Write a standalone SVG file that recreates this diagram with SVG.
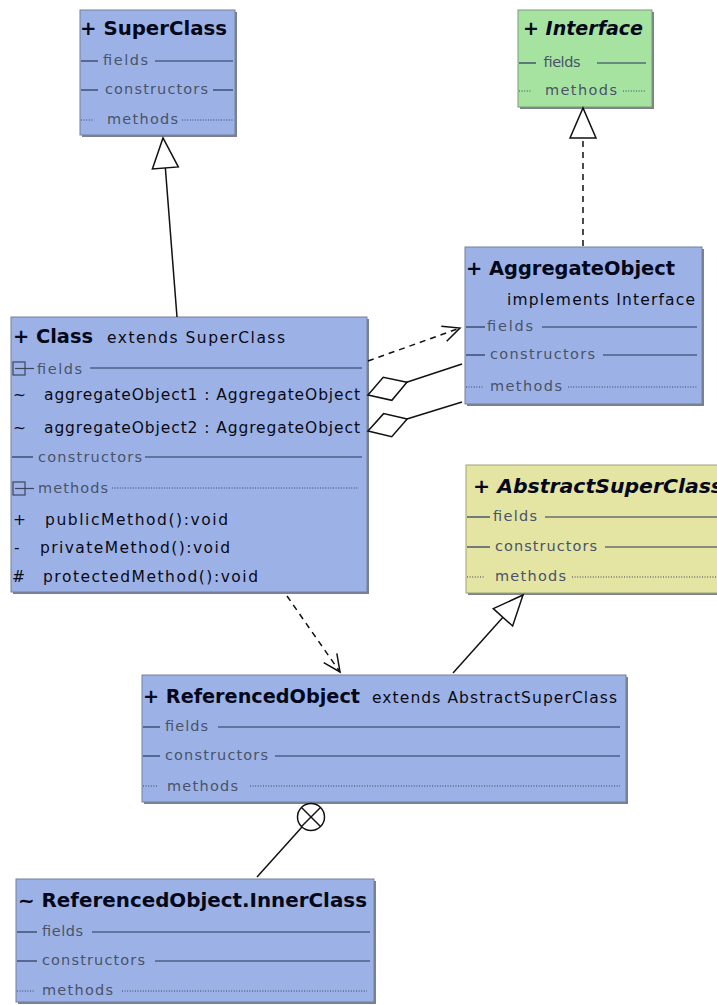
<svg xmlns="http://www.w3.org/2000/svg" width="717" height="1005" viewBox="0 0 717 1005">
  <style>
    .shadow { fill: #7c818d; }
    .box { fill: #9cb2e7; stroke: #74809c; stroke-width: 1; }
    .iface { fill: #a6e3a0; stroke: #7c9a78; stroke-width: 1; }
    .abstract { fill: #e4e4a3; stroke: #a0a078; stroke-width: 1; }
    .rule { stroke: #26345a; stroke-width: 1.2; }
    .dots { stroke: #34415f; stroke-width: 1; stroke-dasharray: 1 1.6; }
    .icon { fill: none; stroke: #3d4760; stroke-width: 1.2; }
    .lbl { font-family: "DejaVu Sans", "Liberation Sans", sans-serif; font-size: 14.5px; fill: #4a5368; }
    .title { font-family: "DejaVu Sans", "Liberation Sans", sans-serif; font-weight: bold; font-size: 20px; fill: #05081a; }
    .ital { font-style: italic; }
    .sig { font-family: "DejaVu Sans", "Liberation Sans", sans-serif; font-size: 15.5px; fill: #0a0a14; }
    .conn { stroke: #111111; stroke-width: 1.5; fill: none; }
    .dash { stroke-dasharray: 6 5; }
  </style>
  <defs>
    <!-- hollow triangle: generalization / realization -->
    <marker id="tri" markerUnits="userSpaceOnUse" markerWidth="34" markerHeight="30" refX="30" refY="14" orient="auto" overflow="visible">
      <path d="M0,1 L30,14 L0,27 Z" fill="#ffffff" stroke="#111111" stroke-width="1.5" stroke-dasharray="none"/>
    </marker>
    <!-- open arrow: dependency -->
    <marker id="open" markerUnits="userSpaceOnUse" markerWidth="20" markerHeight="18" refX="17" refY="8" orient="auto" overflow="visible">
      <path d="M0,0 L17,8 L0,16" fill="none" stroke="#111111" stroke-width="1.5" stroke-dasharray="none"/>
    </marker>
    <!-- hollow diamond: aggregation -->
    <marker id="diamond" markerUnits="userSpaceOnUse" markerWidth="44" markerHeight="28" refX="0" refY="0" orient="auto" overflow="visible">
      <path d="M0,0 L20,-12 L41,0 L21,12.5 Z" fill="#ffffff" stroke="#111111" stroke-width="1.5"/>
    </marker>
  </defs>

  <rect width="717" height="1005" fill="#ffffff"/>

  <!-- SuperClass -->
  <g id="SuperClass">
    <rect class="shadow" x="82" y="12" width="155" height="125"/>
    <rect class="box" x="80" y="10" width="155" height="125"/>
    <text class="title" x="80" y="35" font-size="18" textLength="147" lengthAdjust="spacingAndGlyphs">+ SuperClass</text>
    <line class="rule" x1="81" y1="61" x2="98" y2="61"/>
    <text class="lbl" x="103" y="65" textLength="45">fields</text>
    <line class="rule" x1="155" y1="61" x2="233" y2="61"/>
    <line class="rule" x1="81" y1="90" x2="98" y2="90"/>
    <text class="lbl" x="105" y="94" textLength="103">constructors</text>
    <line class="rule" x1="213" y1="90" x2="233" y2="90"/>
    <line class="dots" x1="81" y1="120" x2="94" y2="120"/>
    <text class="lbl" x="107" y="124" textLength="71">methods</text>
    <line class="dots" x1="182" y1="120" x2="233" y2="120"/>
  </g>

  <!-- Interface -->
  <g id="Interface">
    <rect class="shadow" x="520" y="12" width="134" height="97"/>
    <rect class="iface" x="518" y="10" width="134" height="97"/>
    <text class="title ital" x="523" y="35" font-size="18" textLength="120" lengthAdjust="spacingAndGlyphs">+ Interface</text>
    <line class="rule" x1="519" y1="63" x2="536" y2="63"/>
    <text class="lbl" x="543" y="67" textLength="37">fields</text>
    <line class="rule" x1="597" y1="63" x2="646" y2="63"/>
    <line class="dots" x1="519" y1="91" x2="531" y2="91"/>
    <text class="lbl" x="545" y="95" textLength="72">methods</text>
    <line class="dots" x1="623" y1="91" x2="646" y2="91"/>
  </g>

  <!-- Class -->
  <g id="Class">
    <rect class="shadow" x="13" y="319" width="356" height="275"/>
    <rect class="box" x="11" y="317" width="356" height="275"/>
    <text class="title" x="13" y="343" textLength="80" lengthAdjust="spacingAndGlyphs">+ Class</text>
    <text class="sig" x="107" y="343" textLength="178">extends SuperClass</text>
    <rect class="icon" x="13" y="362" width="12" height="13"/>
    <line class="icon" x1="15" y1="368.5" x2="34" y2="368.5"/>
    <text class="lbl" x="37" y="374" textLength="45">fields</text>
    <line class="rule" x1="90" y1="368" x2="362" y2="368"/>
    <text class="sig" x="13" y="400">~</text>
    <text class="sig" x="44" y="400" textLength="316">aggregateObject1 : AggregateObject</text>
    <text class="sig" x="13" y="433">~</text>
    <text class="sig" x="44" y="433" textLength="316">aggregateObject2 : AggregateObject</text>
    <line class="rule" x1="12" y1="457" x2="33" y2="457"/>
    <text class="lbl" x="38" y="462" textLength="104">constructors</text>
    <line class="rule" x1="145" y1="457" x2="362" y2="457"/>
    <rect class="icon" x="13" y="482" width="12" height="13"/>
    <line class="icon" x1="15" y1="488.5" x2="34" y2="488.5"/>
    <text class="lbl" x="38" y="493" textLength="70">methods</text>
    <line class="dots" x1="112" y1="488" x2="358" y2="488"/>
    <text class="sig" x="13" y="525">+</text>
    <text class="sig" x="45" y="525" textLength="183">publicMethod():void</text>
    <text class="sig" x="14" y="553">-</text>
    <text class="sig" x="40" y="553" textLength="190">privateMethod():void</text>
    <text class="sig" x="12" y="582">#</text>
    <text class="sig" x="43" y="582" textLength="215">protectedMethod():void</text>
  </g>

  <!-- AggregateObject -->
  <g id="AggregateObject">
    <rect class="shadow" x="467" y="249" width="237" height="157"/>
    <rect class="box" x="465" y="247" width="237" height="157"/>
    <text class="title" x="466" y="275" textLength="209" lengthAdjust="spacingAndGlyphs">+ AggregateObject</text>
    <text class="sig" x="507" y="305" textLength="188">implements  Interface</text>
    <line class="rule" x1="466" y1="327" x2="485" y2="327"/>
    <text class="lbl" x="487" y="331" textLength="46">fields</text>
    <line class="rule" x1="542" y1="327" x2="697" y2="327"/>
    <line class="rule" x1="466" y1="355" x2="485" y2="355"/>
    <text class="lbl" x="490" y="359" textLength="105">constructors</text>
    <line class="rule" x1="603" y1="355" x2="697" y2="355"/>
    <line class="dots" x1="466" y1="387" x2="483" y2="387"/>
    <text class="lbl" x="490" y="391" textLength="72">methods</text>
    <line class="dots" x1="568" y1="387" x2="697" y2="387"/>
  </g>

  <!-- AbstractSuperClass -->
  <g id="AbstractSuperClass">
    <rect class="shadow" x="468" y="467" width="260" height="128"/>
    <rect class="abstract" x="466" y="465" width="260" height="128"/>
    <text class="title ital" x="473" y="493" textLength="250" lengthAdjust="spacingAndGlyphs">+ AbstractSuperClass</text>
    <line class="rule" x1="467" y1="517" x2="490" y2="517"/>
    <text class="lbl" x="493" y="521" textLength="44">fields</text>
    <line class="rule" x1="545" y1="517" x2="717" y2="517"/>
    <line class="rule" x1="467" y1="547" x2="490" y2="547"/>
    <text class="lbl" x="495" y="551" textLength="102">constructors</text>
    <line class="rule" x1="605" y1="547" x2="717" y2="547"/>
    <line class="dots" x1="467" y1="577" x2="484" y2="577"/>
    <text class="lbl" x="495" y="581" textLength="71">methods</text>
    <line class="dots" x1="572" y1="577" x2="717" y2="577"/>
  </g>

  <!-- ReferencedObject -->
  <g id="ReferencedObject">
    <rect class="shadow" x="144" y="677" width="484" height="127"/>
    <rect class="box" x="142" y="675" width="484" height="127"/>
    <text class="title" x="143" y="703" textLength="217" lengthAdjust="spacingAndGlyphs">+ ReferencedObject</text>
    <text class="sig" x="372" y="703" textLength="245">extends  AbstractSuperClass</text>
    <line class="rule" x1="143" y1="727" x2="160" y2="727"/>
    <text class="lbl" x="165" y="731" textLength="43">fields</text>
    <line class="rule" x1="218" y1="727" x2="620" y2="727"/>
    <line class="rule" x1="143" y1="756" x2="160" y2="756"/>
    <text class="lbl" x="165" y="760" textLength="103">constructors</text>
    <line class="rule" x1="275" y1="756" x2="620" y2="756"/>
    <line class="dots" x1="143" y1="786" x2="157" y2="786"/>
    <text class="lbl" x="167" y="791" textLength="71">methods</text>
    <line class="dots" x1="250" y1="786" x2="620" y2="786"/>
  </g>

  <!-- ReferencedObject.InnerClass -->
  <g id="InnerClass">
    <rect class="shadow" x="18" y="881" width="358" height="123"/>
    <rect class="box" x="16" y="879" width="358" height="123"/>
    <text class="title" x="18" y="907" textLength="349" lengthAdjust="spacingAndGlyphs">~ ReferencedObject.InnerClass</text>
    <line class="rule" x1="17" y1="932" x2="37" y2="932"/>
    <text class="lbl" x="42" y="936" textLength="41">fields</text>
    <line class="rule" x1="92" y1="932" x2="370" y2="932"/>
    <line class="rule" x1="17" y1="961" x2="37" y2="961"/>
    <text class="lbl" x="42" y="965" textLength="103">constructors</text>
    <line class="rule" x1="155" y1="961" x2="370" y2="961"/>
    <line class="dots" x1="17" y1="991" x2="35" y2="991"/>
    <text class="lbl" x="42" y="995" textLength="71">methods</text>
    <line class="dots" x1="122" y1="991" x2="367" y2="991"/>
  </g>

  <!-- connectors -->
  <g id="connectors">
    <!-- Class extends SuperClass -->
    <path class="conn" d="M177,317 L163,138" marker-end="url(#tri)"/>
    <!-- AggregateObject implements Interface -->
    <path class="conn dash" d="M583,246 L583,108" marker-end="url(#tri)"/>
    <!-- ReferencedObject extends AbstractSuperClass -->
    <path class="conn" d="M453,673 L523,595" marker-end="url(#tri)"/>
    <!-- dependencies -->
    <path class="conn dash" d="M368,361 L460,328" marker-end="url(#open)"/>
    <path class="conn dash" d="M287,596 L340,672" marker-end="url(#open)"/>
    <!-- aggregations -->
    <path class="conn" d="M368,395 L462,364" marker-start="url(#diamond)"/>
    <path class="conn" d="M368,431 L462,402" marker-start="url(#diamond)"/>
    <!-- nesting: inner class of ReferencedObject -->
    <g class="conn">
      <circle cx="311" cy="817" r="13.5" fill="#ffffff"/>
      <line x1="301.5" y1="807.5" x2="320.5" y2="826.5"/>
      <line x1="320.5" y1="807.5" x2="301.5" y2="826.5"/>
      <line x1="302" y1="827" x2="257" y2="877"/>
    </g>
  </g>
</svg>
